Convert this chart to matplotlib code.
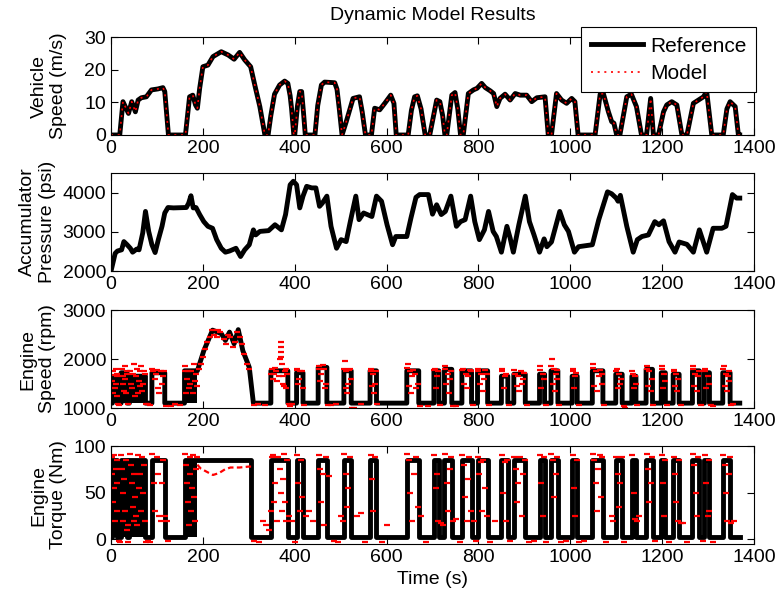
import matplotlib
matplotlib.use("Agg")
import matplotlib.pyplot as plt
import numpy as np

plt.rcParams["font.family"] = ["Liberation Sans", "DejaVu Sans"]
plt.rcParams["font.size"] = 14

# vehicle speed (m/s), breakpoints of the drive cycle
veh_t = [0, 19, 26, 31, 38, 45, 53, 59, 66, 77, 88, 102, 113, 117, 125,
         162, 171, 178, 184, 188, 193, 200, 211, 222, 240, 255, 268, 280, 291, 304, 313, 324, 335,
         342, 348, 356, 367, 378, 385, 390, 393, 398,
         400, 406, 411, 415, 419, 423,
         444, 450, 458, 465, 487, 492, 497, 503,
         512, 527, 541, 547, 554,
         567, 574, 585, 596, 609, 616, 621,
         647, 654, 661, 667, 675, 684,
         694, 709, 716, 722, 727,
         731, 742, 749, 755, 761,
         767, 778, 789, 797, 807, 815, 826, 833, 840, 847, 858, 869, 880, 891, 905, 916, 927, 945, 952,
         959, 970, 981, 992, 1003, 1010, 1017,
         1054, 1065, 1072, 1083, 1090, 1095, 1101,
         1108, 1123, 1133, 1144, 1155,
         1166, 1175, 1181,
         1192, 1203, 1210, 1221, 1232, 1243,
         1254, 1268, 1279, 1290, 1297, 1308,
         1333, 1341, 1348, 1359, 1366, 1369]
veh_v = [0, 0, 10.2, 8.7, 6.6, 10.2, 7.1, 10.7, 11.4, 11.7, 13.8, 14.1, 14.5, 13.3, 0,
         0, 11.7, 12.2, 9.2, 8.2, 14.3, 20.9, 21.4, 24.0, 25.5, 24.5, 23.2, 25.3, 23.0, 20.9, 15.3, 8.7, 0,
         0, 6.0, 12.5, 15.3, 16.5, 15.8, 12.0, 8.2, 0,
         0, 9.0, 13.3, 13.3, 7.0, 0,
         0, 9.0, 15.3, 16.2, 16.0, 14.0, 8.0, 0,
         4.0, 11.2, 11.7, 7.0, 0,
         0, 8.2, 7.7, 9.7, 12.2, 9.7, 0,
         0, 7.5, 11.7, 12.0, 8.0, 0,
         0, 10.7, 10.2, 6.0, 0,
         0, 12.2, 13.0, 8.0, 0,
         0, 12.7, 13.8, 14.3, 15.8, 14.5, 13.5, 12.7, 8.7, 11.2, 12.5, 10.7, 12.7, 12.2, 12.2, 10.2, 11.4, 11.7, 0,
         0, 12.7, 10.7, 9.7, 11.2, 10.2, 0,
         0, 12.5, 12.7, 7.1, 4.1, 3.6, 0,
         0, 11.7, 12.5, 8.7, 0,
         0, 11.2, 0,
         0, 7.1, 9.2, 10.2, 9.2, 0,
         0, 9.7, 10.7, 11.7, 13.3, 0,
         0, 8.0, 10.2, 8.7, 0, 0]

# accumulator pressure (psi)
acc_t = [0, 9, 14, 23, 28, 35, 42, 47, 56, 61, 69, 75, 82, 89, 96, 103, 111, 117, 124, 136,
         164, 169, 174, 179, 185, 193, 202, 211, 221, 230, 240, 249, 258, 272, 282, 291, 301,
         310, 315, 324, 343, 357, 371, 380, 390, 397, 404, 411, 418, 426, 437, 446, 454, 460,
         470, 479, 491, 501, 512, 521, 533, 540, 550, 568, 578, 589, 601, 613, 620, 644, 653,
         664, 672, 691, 700, 709, 719, 728, 740, 752, 761, 771, 783, 792, 802, 813, 822, 832,
         839, 850, 862, 869, 876, 888, 902, 911, 921, 933, 943, 949, 959, 977, 987, 996, 1009,
         1018, 1048, 1062, 1081, 1090, 1100, 1104, 1109, 1123, 1137, 1146, 1156, 1170, 1184,
         1193, 1203, 1215, 1228, 1237, 1254, 1268, 1281, 1297, 1311, 1330, 1339, 1353, 1362, 1369]
acc_p = [2000, 2450, 2510, 2540, 2750, 2670, 2580, 2480, 2560, 2540, 2970, 3520, 3010, 2670,
         2470, 2800, 3140, 3480, 3620, 3610, 3620, 3730, 3920, 3610, 3620, 3440, 3260, 3140,
         3090, 2800, 2580, 2480, 2510, 2580, 2370, 2540, 2670, 3050, 2920, 3010, 3030, 3180,
         3050, 3440, 4200, 4290, 4200, 3610, 3910, 4160, 4120, 4120, 3650, 3730, 3910, 3140,
         2580, 2800, 2750, 3260, 3910, 3310, 3480, 3390, 3910, 3780, 3180, 2670, 2880, 2880,
         3350, 3880, 3950, 3950, 3450, 3690, 3440, 3520, 3910, 3140, 3260, 3310, 3910, 3260,
         2800, 3050, 3520, 3010, 2880, 2480, 3140, 2840, 2480, 3180, 3910, 3260, 2920, 2480,
         2820, 2620, 2740, 3520, 3180, 3010, 2480, 2620, 2670, 3310, 4020, 3970, 3860, 3780,
         3930, 3140, 2480, 2800, 2880, 2920, 3260, 3180, 3280, 2750, 2480, 2740, 2680, 2480,
         3050, 2480, 3090, 3090, 3140, 3950, 3860, 3860]

# engine on periods (s), engine speed while on (rpm), and whether the engine chatters
on_start = [3, 22, 40, 89, 160, 348, 404, 451, 507, 564, 644, 703, 726, 764, 798, 850,
            877, 933, 958, 1004, 1048, 1099, 1134, 1165, 1198, 1224, 1266, 1292, 1332]
on_end = [14, 35, 75, 117, 188, 385, 418, 470, 523, 578, 670, 714, 742, 785, 820, 864,
          902, 944, 973, 1015, 1071, 1113, 1143, 1179, 1207, 1237, 1281, 1303, 1348]
on_rpm = [1620, 1720, 1650, 1720, 1760, 1760, 1720, 1830, 1760, 1760, 1760, 1760, 1790,
          1760, 1760, 1650, 1690, 1690, 1760, 1650, 1760, 1690, 1650, 1790, 1720, 1690,
          1760, 1720, 1720]
chatter = [1, 1, 1, 0, 1] + [0] * 24
idle_rpm = 1100
# high-speed stretch where the engine follows the road load (continues pulse 4)
hump_idx = 4
hi_t = [188, 202, 221, 240, 249, 258, 268, 277, 287, 301, 310]
hi_rpm = [1700, 2170, 2590, 2520, 2380, 2550, 2310, 2600, 2170, 1830, 1100]

# engine torque levels (Nm)
trq_on = 85
trq_off = 3
trq_hi_end = 305

# model engine speed (s, rpm)
model_spd = [
    (2, 1550), (4, 1750), (5, 1300), (7, 1680), (8, 1400), (10, 1800), (11, 1500), (12, 1250),
    (13, 1700), (14, 1650), (16, 1080), (18, 1060),
    (23, 1800), (25, 1650), (27, 1500), (28, 1350), (30, 1850), (31, 1600), (33, 1300),
    (34, 1750), (35, 1700), (37, 1080),
    (41, 1750), (43, 1500), (46, 1400), (48, 1700), (50, 1900), (52, 1250), (54, 1650),
    (56, 1800), (58, 1300), (60, 1550), (62, 1750), (64, 1450), (66, 1850), (68, 1350),
    (70, 1500), (72, 1750), (73, 1700), (77, 1080), (80, 1080), (84, 1060),
    (90, 1800), (92, 1750), (95, 1600), (97, 1700), (100, 1780), (102, 1400), (105, 1300),
    (108, 1750), (111, 1500), (113, 1650), (116, 1760), (120, 1050), (130, 1050),
    (140, 1080), (150, 1060),
    (161, 1750), (162, 1850), (164, 1300), (166, 1600), (168, 1750), (170, 1400), (173, 1500),
    (175, 1750), (178, 1300), (180, 1900), (183, 1550), (185, 1700), (187, 1450),
    (192, 1800), (195, 1900), (200, 2050), (205, 2200), (210, 2350), (215, 2450), (220, 2600),
    (225, 2500), (230, 2450), (232, 2600), (238, 2550), (245, 2400), (250, 2300), (255, 2500),
    (260, 2450), (265, 2250), (270, 2350), (275, 2550), (280, 2450), (285, 2300), (290, 2100),
    (295, 1900), (300, 1800), (312, 1060), (320, 1080), (335, 1060),
    (349, 1700), (350, 1800), (353, 1600), (355, 1700), (358, 1820), (360, 1750), (362, 1550),
    (365, 1650), (368, 2000), (370, 2350), (370, 2250), (370, 2150), (371, 2050), (372, 1900),
    (374, 1650), (375, 1500), (377, 1450), (378, 1750), (380, 1800), (382, 1400), (384, 1700),
    (387, 1080), (390, 1050), (395, 1080),
    (405, 1780), (406, 1800), (408, 1500), (410, 1600), (412, 1750), (415, 1750), (417, 1400),
    (420, 1060),
    (452, 1800), (453, 1850), (455, 1550), (458, 1700), (461, 1880), (464, 1800), (466, 1400),
    (468, 1500), (472, 1060), (480, 1060), (490, 1080),
    (508, 1800), (509, 1950), (511, 1400), (512, 1750), (514, 1300), (516, 1500), (518, 1780),
    (520, 1800), (522, 1600), (525, 1000), (530, 1000), (545, 1080),
    (565, 1800), (566, 1750), (568, 1450), (570, 1700), (572, 1300), (575, 1500), (577, 1750),
    (580, 1080),
    (645, 1820), (646, 1900), (648, 1450), (650, 1750), (653, 1300), (655, 1650), (658, 1780),
    (662, 1700), (665, 1400), (668, 1500), (672, 1050), (690, 1050),
    (704, 1780), (705, 1800), (707, 1400), (710, 1650), (712, 1750), (716, 1060),
    (727, 1800), (728, 1850), (730, 1500), (733, 1700), (735, 1300), (738, 1600), (740, 1750),
    (745, 1050), (752, 1040),
    (765, 1780), (766, 1800), (769, 1500), (772, 1700), (775, 1400), (778, 1650), (781, 1780),
    (783, 1750), (788, 1060),
    (799, 1800), (800, 1750), (803, 1500), (806, 1700), (809, 1350), (812, 1600), (815, 1780),
    (818, 1700), (822, 1060),
    (851, 1750), (852, 1800), (855, 1400), (858, 1650), (861, 1700), (866, 1060),
    (878, 1780), (880, 1700), (883, 1450), (886, 1650), (889, 1350), (892, 1750), (895, 1500),
    (898, 1600), (900, 1720), (905, 1060),
    (934, 1780), (935, 1850), (937, 1400), (940, 1700), (942, 1600), (947, 1060),
    (959, 1850), (960, 2000), (962, 1500), (964, 1800), (966, 1350), (968, 1700), (970, 1780),
    (972, 1600), (976, 1060),
    (1005, 1750), (1006, 1800), (1008, 1400), (1011, 1650), (1013, 1720), (1018, 1060),
    (1049, 1820), (1050, 1900), (1052, 1450), (1055, 1750), (1058, 1350), (1062, 1650),
    (1065, 1780), (1068, 1700), (1070, 1500), (1074, 1060),
    (1100, 1760), (1101, 1800), (1103, 1400), (1106, 1700), (1109, 1500), (1111, 1600),
    (1116, 1040), (1120, 1000),
    (1135, 1760), (1136, 1700), (1138, 1400), (1140, 1650), (1142, 1500), (1146, 1060),
    (1166, 1800), (1167, 1850), (1169, 1450), (1172, 1750), (1175, 1350), (1177, 1600),
    (1180, 1070),
    (1199, 1800), (1200, 1850), (1202, 1400), (1204, 1700), (1206, 1550), (1210, 1060),
    (1225, 1780), (1226, 1750), (1228, 1450), (1230, 1700), (1233, 1350), (1235, 1600),
    (1240, 1060),
    (1267, 1800), (1268, 1850), (1270, 1450), (1272, 1700), (1275, 1350), (1278, 1650),
    (1280, 1760), (1284, 1060),
    (1293, 1760), (1294, 1800), (1296, 1400), (1299, 1650), (1301, 1500), (1306, 1060),
    (1310, 1050),
    (1333, 1800), (1334, 1850), (1336, 1450), (1338, 1700), (1341, 1350), (1343, 1650),
    (1345, 1550), (1346, 1750), (1350, 1060), (1355, 1080),
]

# model engine torque (s, Nm)
model_trq = [
    (2, 88), (3, 70), (4, 40), (6, 90), (7, 55), (9, 20), (10, 75), (12, 60), (13, 30), (14, 85),
    (17, -2), (19, -3), (21, 90), (23, 75), (25, 50), (26, 20), (28, 65), (30, 30), (32, 85),
    (34, 10), (37, -3), (38, 15), (41, 92), (43, 80), (45, 60), (47, 35), (49, 20), (51, 70),
    (53, 45), (55, 25), (57, 15), (59, 90), (61, 55), (63, 70), (65, 30), (67, 88), (69, 50),
    (71, 80), (73, 20), (76, -3), (80, -2), (84, -3),
    (90, 92), (93, 60), (96, 30), (100, 88), (103, 70), (105, 25), (108, 20), (111, 60),
    (114, 85), (118, 25), (121, 20), (125, -2),
    (161, 92), (163, 80), (165, 60), (167, 40), (169, 15), (171, 88), (173, 70), (175, 30),
    (177, 55), (179, 90), (181, 45), (183, 20), (185, 75), (187, 88),
    (312, -2), (322, -3), (330, 20), (338, 15), (345, 10),
    (349, 30), (350, 88), (353, 90), (355, 40), (358, 60), (361, 20), (364, 88), (367, 75),
    (369, 50), (372, 30), (374, 65), (376, 92), (378, 40), (381, 20), (384, 85), (388, 25),
    (395, 20), (400, -3),
    (405, 90), (408, 60), (411, 30), (414, 85), (416, 45), (425, 25), (432, 30), (440, 20),
    (452, 90), (455, 75), (458, 40), (461, 70), (464, 15), (467, 88), (475, 68), (485, -2),
    (495, -3), (500, 25), (505, 20),
    (508, 92), (511, 70), (514, 35), (517, 55), (520, 88), (535, 25), (545, 28), (552, -3),
    (565, 90), (568, 65), (571, 30), (574, 88), (590, -3), (600, 15),
    (645, 92), (649, 85), (652, 50), (656, 20), (660, 70), (664, 88), (668, 35), (676, 25),
    (685, -3),
    (704, 90), (707, 55), (710, 70), (713, 20), (718, 18), (722, 15),
    (727, 92), (731, 60), (734, 30), (737, 75), (740, 88), (745, 20), (752, 22), (760, -3),
    (765, 90), (768, 80), (771, 45), (774, 20), (777, 65), (780, 88), (783, 30), (790, 20),
    (795, -2),
    (799, 88), (802, 70), (805, 83), (808, 30), (811, 85), (815, 55), (818, 25), (825, -3),
    (835, 20),
    (851, 90), (854, 50), (857, 83), (860, 20), (863, 85), (868, -2),
    (878, 88), (881, 75), (884, 40), (887, 60), (890, 88), (894, 25), (898, 70), (901, 85),
    (910, -3), (920, -2),
    (934, 90), (937, 60), (940, 25), (943, 88), (948, -3),
    (959, 92), (962, 85), (965, 45), (968, 70), (971, 88), (980, -3), (990, -2),
    (1005, 90), (1008, 55), (1011, 25), (1014, 85), (1020, -3), (1030, -2),
    (1049, 92), (1052, 85), (1055, 60), (1058, 30), (1061, 75), (1064, 90), (1067, 45),
    (1070, 88), (1078, -3),
    (1090, 25), (1094, 20), (1100, 88), (1103, 70), (1106, 35), (1109, 60), (1112, 88),
    (1118, -3),
    (1135, 90), (1138, 50), (1141, 22), (1145, 20), (1150, 25),
    (1166, 92), (1169, 75), (1172, 40), (1175, 60), (1178, 88), (1185, -2),
    (1199, 90), (1202, 60), (1205, 25), (1207, 85), (1215, -3),
    (1225, 88), (1228, 70), (1231, 40), (1234, 20), (1236, 85), (1240, 18), (1245, 18),
    (1255, -3),
    (1267, 92), (1270, 80), (1273, 50), (1276, 25), (1279, 88), (1290, -2),
    (1293, 90), (1296, 60), (1299, 25), (1301, 30), (1302, 85), (1310, -3),
    (1333, 90), (1336, 80), (1339, 50), (1342, 20), (1345, 70), (1347, 88), (1350, 18),
    (1356, 20),
]
# model torque over the high-speed stretch (s, Nm)
model_hump_t = [188, 195, 210, 222, 235, 248, 260, 280, 300, 305]
model_hump_n = [80, 76, 72, 69, 71, 75, 77, 77, 78, 78]


def pulse_series(starts, ends, levels, low, hump_at=None, hump_t=None, hump_y=None):
    t = [0]
    y = [low]
    for i, (s, e, lv) in enumerate(zip(starts, ends, levels)):
        t += [s, s, e]
        y += [low, lv, lv]
        if i == hump_at:
            t += list(hump_t)
            y += list(hump_y)
        else:
            t.append(e)
            y.append(low)
    t.append(1369)
    y.append(low)
    return np.array(t, float), np.array(y, float)


fig = plt.figure(figsize=(7.77, 5.96), dpi=100)
left, width, height = 0.1429, 0.8275, 0.1644
bottoms = [0.7735, 0.5453, 0.3154, 0.0872]
axes = [fig.add_axes([left, b, width, height]) for b in bottoms]

lw_ref = 3.5
red_dot = (0, (1.2, 2.8))
dash_kw = dict(linestyle="none", marker="_", color="red", markersize=5, mew=1.6)

ax = axes[0]
ax.plot(veh_t, veh_v, color="black", lw=lw_ref, solid_joinstyle="round", label="Reference")
ax.plot(veh_t, veh_v, color="red", lw=1.2, linestyle=red_dot, label="Model")
ax.set_ylim(0, 30)
ax.set_yticks([0, 10, 20, 30])
ax.set_ylabel("Vehicle\nSpeed (m/s)")
ax.set_title("Dynamic Model Results", fontsize=14, pad=12)
leg = ax.legend(loc="upper right", bbox_to_anchor=(1.003, 1.10), borderaxespad=0,
                fancybox=False, framealpha=1, edgecolor="black", handlelength=2.5,
                fontsize=15, borderpad=0.45, labelspacing=0.4, handletextpad=0.35)
leg.get_frame().set_linewidth(0.8)

ax = axes[1]
ax.plot(acc_t, acc_p, color="black", lw=lw_ref, solid_joinstyle="round")
ax.set_ylim(2000, 4500)
ax.set_yticks([2000, 3000, 4000])
ax.set_ylabel("Accumulator\nPressure (psi)")

ax = axes[2]
st, sv = pulse_series(on_start, on_end, on_rpm, idle_rpm, hump_idx, hi_t[1:], hi_rpm[1:])
ax.plot(st, sv, color="black", lw=lw_ref)
for s, e, lv, c in zip(on_start, on_end, on_rpm, chatter):
    if c:
        ax.fill_between([s, e], idle_rpm, lv, color="black", lw=0)
mt, mv = zip(*model_spd)
ax.plot(mt, mv, **dash_kw)
ax.set_ylim(1000, 3000)
ax.set_yticks([1000, 2000, 3000])
ax.set_ylabel("Engine\nSpeed (rpm)")

ax = axes[3]
trq_ends = list(on_end)
trq_ends[hump_idx] = trq_hi_end
tt, tv = pulse_series(on_start, trq_ends, [trq_on] * len(on_start), trq_off)
ax.plot(tt, tv, color="black", lw=lw_ref)
for s, e, c in zip(on_start, on_end, chatter):
    if c:
        ax.fill_between([s, e], trq_off, trq_on, color="black", lw=0)
ax.plot(model_hump_t, model_hump_n, color="red", lw=1.6, linestyle=(0, (2.5, 1.5)))
mt, mv = zip(*model_trq)
ax.plot(mt, mv, **dash_kw)
ax.set_ylim(-5, 100)
ax.set_yticks([0, 50, 100])
ax.set_ylabel("Engine\nTorque (Nm)")
ax.set_xlabel("Time (s)")

for ax in axes:
    ax.set_xlim(0, 1400)
    ax.set_xticks(range(0, 1401, 200))
    ax.tick_params(direction="in", top=True, right=True, length=5, width=0.8, labelsize=14)
    for sp in ax.spines.values():
        sp.set_linewidth(0.8)

# two-digit and four-digit tick panels get their labels at fixed offsets
for ax, xpos in zip(axes, [-0.068, -0.086, -0.086, -0.068]):
    ax.yaxis.set_label_coords(xpos, 0.5)

fig.savefig("out.png", dpi=100)
